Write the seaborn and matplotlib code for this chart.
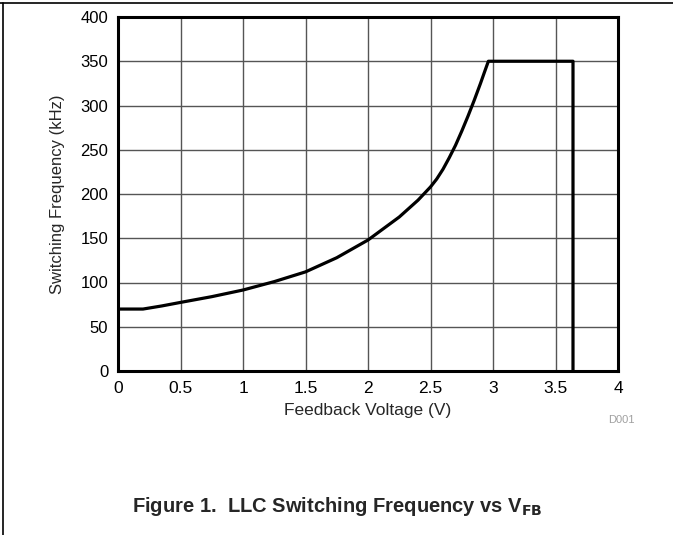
import numpy as np
import pandas as pd
import matplotlib
matplotlib.use("Agg")
import matplotlib.pyplot as plt
from matplotlib.lines import Line2D
import seaborn as sns

# curve (V_FB in volts, f_sw in kHz)
feedback_v = [0.0, 0.2, 0.35, 0.5, 0.75, 1.0, 1.25, 1.5, 1.75, 2.0, 2.25, 2.4, 2.5,
              2.55, 2.6, 2.65, 2.7, 2.75, 2.8, 2.85, 2.9, 2.93, 2.963, 3.64, 3.64]
freq_khz = [70, 70, 73.5, 77.5, 84, 91.5, 101, 112, 128, 148, 174, 193, 208,
            217, 228, 241, 255, 271, 288, 306, 325, 337, 350, 350, 0]

x_ticks = [0, 0.5, 1, 1.5, 2, 2.5, 3, 3.5, 4]
x_tick_labels = ["0", "0.5", "1", "1.5", "2", "2.5", "3", "3.5", "4"]
y_ticks = [0, 50, 100, 150, 200, 250, 300, 350, 400]

sns.set_style("white")
plt.rcParams['font.family'] = ['Liberation Sans', 'DejaVu Sans']

df = pd.DataFrame({"vfb": feedback_v, "fsw": freq_khz})

fig = plt.figure(figsize=(6.73, 5.35), dpi=100)
ax = fig.add_axes([118 / 673, 1 - 371 / 535, 500 / 673, 354 / 535])

sns.lineplot(data=df, x="vfb", y="fsw", ax=ax, estimator=None, sort=False,
             color="black", linewidth=2.3, zorder=3)

ax.set_xlim(0, 4)
ax.set_ylim(0, 400)
ax.set_xticks(x_ticks)
ax.set_xticklabels(x_tick_labels)
ax.set_yticks(y_ticks)
ax.tick_params(axis="both", length=0, colors="black")
ax.tick_params(axis="x", pad=7, labelsize=12.5)
ax.tick_params(axis="y", pad=7, labelsize=12)
ax.grid(True, color="#555555", linewidth=1.0)
for s in ax.spines.values():
    s.set_color("black")
    s.set_linewidth(2.2)

ax.set_xlabel("Feedback Voltage (V)", fontsize=12.5, labelpad=5)
ax.set_ylabel("Switching Frequency (kHz)", fontsize=12, labelpad=11)

fig.text(621 / 673, 1 - 420 / 535, "D001", fontsize=8, color="#a0a0a0", ha="center", va="center")
fig.text(337 / 673, 1 - 506 / 535, r"Figure 1.  LLC Switching Frequency vs V$_{\mathbf{FB}}$",
         fontsize=14.5, fontweight="bold", ha="center", va="center")

# page border lines (top and left)
fig.add_artist(Line2D([0, 1], [1 - 3 / 535, 1 - 3 / 535], transform=fig.transFigure, color="black", linewidth=1.2))
fig.add_artist(Line2D([2.5 / 673, 2.5 / 673], [0, 1 - 3 / 535], transform=fig.transFigure, color="black", linewidth=1.2))

fig.savefig("out.png", dpi=100)
